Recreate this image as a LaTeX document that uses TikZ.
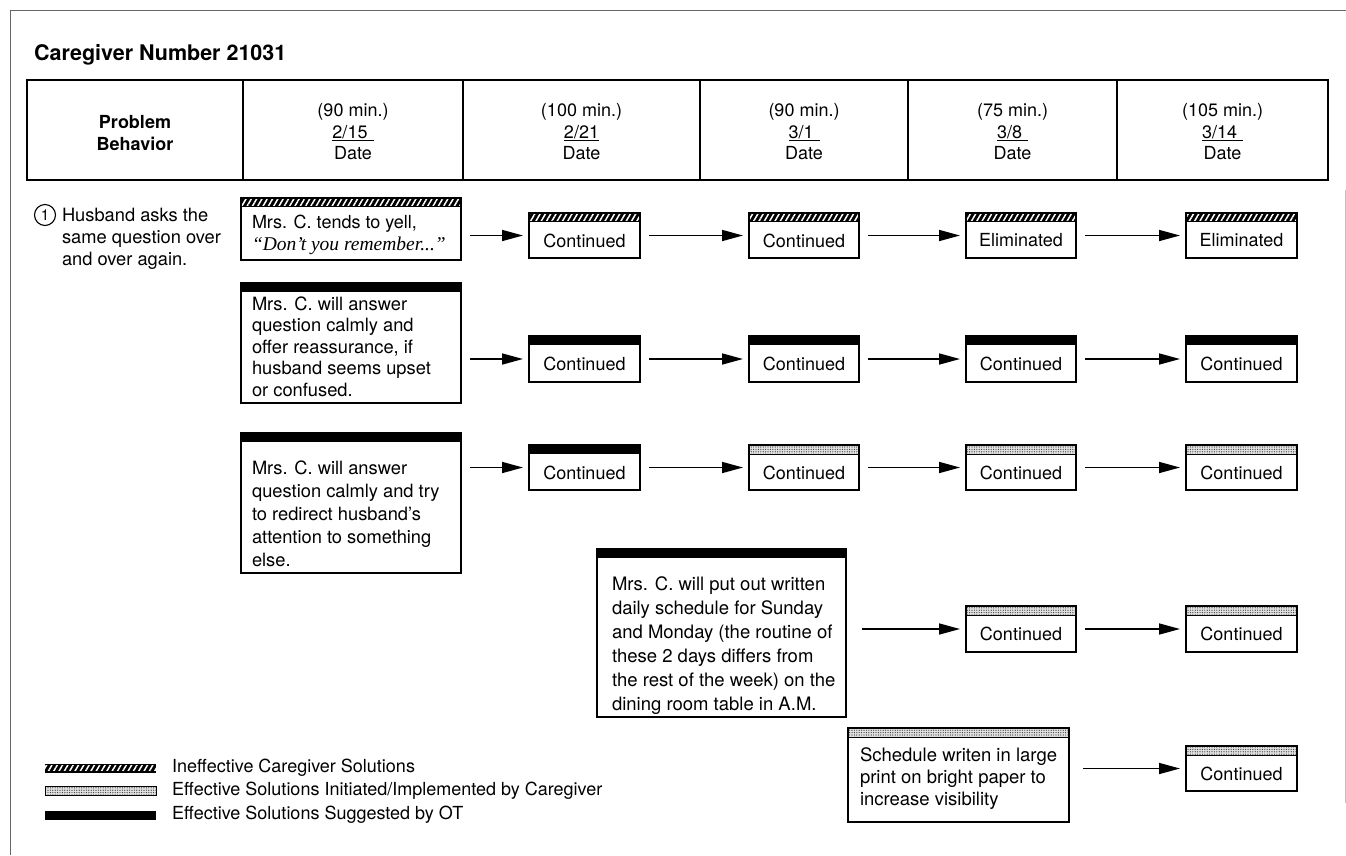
\documentclass[tikz,border=0pt]{standalone}
\usepackage{fontspec}
\setmainfont{TeX Gyre Heros}
\newfontfamily\quotefont{Liberation Serif}
\usetikzlibrary{patterns.meta,arrows.meta}
\newcommand\fs[2]{\fontsize{#1}{#2}\selectfont}
\newcommand\barsolid[1]{%
  \fill[black] (#1.north west) rectangle ([yshift=-9pt]#1.north east);}
\newcommand\barhatch[1]{%
  \fill[black] (#1.north west) rectangle ([yshift=-9pt]#1.north east);
  \fill[pattern={Lines[angle=60,distance=4.6pt,line width=1.5pt]},pattern color=white]
    ([yshift=-1.8pt]#1.north west) rectangle ([yshift=-7.4pt]#1.north east);}
\newcommand\bardots[1]{%
  \fill[black!12] (#1.north west) rectangle ([yshift=-9pt]#1.north east);
  \fill[pattern={Dots[distance=2.4pt,radius=0.6pt]},pattern color=black!80]
    (#1.north west) rectangle ([yshift=-9pt]#1.north east);
  \draw[line width=0.9pt] (#1.north west) rectangle ([yshift=-9pt]#1.north east);}
\newcommand\mkbox[6]{%
  \node[boxsty,anchor=north west,minimum width={(#4)-(#2)},minimum height={(#5)-(#3)}] (#1) at (#2,#3) {};
  \csname bar#6\endcsname{#1}%
  \draw[line width=1.1pt] (#1.north west) rectangle (#1.south east);}
\begin{document}
\begin{tikzpicture}[x=1pt,y=-1pt,
  boxsty/.style={draw,line width=1.1pt,inner sep=0pt,outer sep=0pt,rectangle},
  cell/.style={draw,line width=1.5pt,inner sep=0pt,outer sep=0pt,rectangle,anchor=north west,
     minimum height=100},
  celltext/.style={inner sep=0pt,align=center,font=\fs{18}{21.5}},
  arr/.style={line width=1.6pt,-{Triangle[length=21pt,width=11pt]},shorten <=9pt,shorten >=6pt},
  txt/.style={inner sep=0pt,outer sep=0pt,align=left,anchor=north west},
  ctext/.style={inner sep=0pt,font=\fs{18}{20}},
  legtext/.style={inner sep=0pt,anchor=west,font=\fs{18}{20}},
  legbar/.style={inner sep=0pt,outer sep=0pt,minimum width=111,minimum height=9,anchor=west}]
\useasboundingbox (0,0) rectangle (1346,855);
\fill[white] (0,0) rectangle (1346,855);
% frame
\draw[black!60,line width=1pt] (10,855) -- (10,10) -- (1346,10);
\draw[black!25,line width=1pt] (1345,190) -- (1345,803);
% title
\node[anchor=west,inner sep=0pt,font=\bfseries\fs{21.5}{24}] (title) at (34,55) {Caregiver Number 21031};
% header
\node[cell,minimum width=216] (h0) at (27,80) {};
\node[cell,minimum width=220] (h1) at (243,80) {};
\node[cell,minimum width=237] (h2) at (463,80) {};
\node[cell,minimum width=208] (h3) at (700,80) {};
\node[cell,minimum width=209] (h4) at (908,80) {};
\node[cell,minimum width=211] (h5) at (1117,80) {};
\node[celltext] (h0t) at ([yshift=-3pt]h0.center) {\bfseries Problem\\\bfseries Behavior};
\node[celltext] (h1t) at ([yshift=-2pt]h1.center) {(90 min.)\\\underline{2/15\,\,}\\Date};
\node[celltext] (h2t) at ([yshift=-2pt]h2.center) {(100 min.)\\\underline{2/21}\\Date};
\node[celltext] (h3t) at ([yshift=-2pt]h3.center) {(90 min.)\\\underline{3/1\,\,}\\Date};
\node[celltext] (h4t) at ([yshift=-2pt]h4.center) {(75 min.)\\\underline{3/8\,\,}\\Date};
\node[celltext] (h5t) at ([yshift=-2pt]h5.center) {(105 min.)\\\underline{3/14\,\,}\\Date};
% problem behaviour
\node[circle,draw,line width=1.1pt,minimum size=21pt,inner sep=0pt,font=\fs{15}{15}] (c1) at (45,215) {1};
\node[txt,font=\fs{18.3}{22}] (pb) at (62,208.4) {Husband asks the\\same question over\\and over again.};
% solution boxes
\mkbox{a1}{241}{198}{461}{260}{hatch}
\node[txt,font=\fs{18}{22}] (a1t) at (252,215.5) {Mrs. C. tends to yell,\\{\quotefont\itshape\fs{19.5}{22}“Don’t you remember...”}};
\mkbox{a2}{241}{283}{461}{403}{solid}
\node[txt,font=\fs{18.3}{21.5}] (a2t) at (252,296.5) {Mrs. C. will answer\\question calmly and\\offer reassurance, if\\husband seems upset\\or confused.};
\mkbox{a3}{241}{433}{461}{573}{solid}
\node[txt,font=\fs{18.3}{23}] (a3t) at (252,460.4) {Mrs. C. will answer\\question calmly and try\\to redirect husband's\\attention to something\\else.};
\mkbox{a4}{597}{549}{846}{717}{solid}
\node[txt,font=\fs{18.5}{24}] (a4t) at (612,576.3) {Mrs. C. will put out written\\daily schedule for Sunday\\and Monday (the routine of\\these 2 days differs from\\the rest of the week) on the\\dining room table in A.M.};
\mkbox{a5}{848}{728}{1069}{822}{dots}
\node[txt,font=\fs{18.5}{22}] (a5t) at (860,747.3) {Schedule writen in large\\print on bright paper to\\increase visibility};
% row 1
\mkbox{b1}{529}{213}{640}{258}{hatch}
\mkbox{c1b}{749}{213}{859}{258}{hatch}
\mkbox{d1}{966}{213}{1076}{258}{hatch}
\mkbox{e1}{1186}{213}{1297}{258}{hatch}
\node[ctext] at ([yshift=-5pt]b1.center) {Continued};
\node[ctext] at ([yshift=-5pt]c1b.center) {Continued};
\node[ctext] at ([yshift=-5pt]d1.center) {Eliminated};
\node[ctext] at ([yshift=-5pt]e1.center) {Eliminated};
\draw[arr] (a1.east |- b1.west) -- (b1.west);
\draw[arr] (b1.east) -- (c1b.west);
\draw[arr] (c1b.east) -- (d1.west);
\draw[arr] (d1.east) -- (e1.west);
% row 2
\mkbox{b2}{529}{336}{640}{382}{solid}
\mkbox{c2}{749}{336}{859}{382}{solid}
\mkbox{d2}{966}{336}{1076}{382}{solid}
\mkbox{e2}{1186}{336}{1297}{382}{solid}
\foreach \n in {b2,c2,d2,e2} {\node[ctext] at ([yshift=-5pt]\n.center) {Continued};}
\draw[arr] (a2.east |- b2.west) -- (b2.west);
\draw[arr] (b2.east) -- (c2.west);
\draw[arr] (c2.east) -- (d2.west);
\draw[arr] (d2.east) -- (e2.west);
% row 3
\mkbox{b3}{529}{445}{640}{490}{solid}
\mkbox{c3}{749}{445}{859}{490}{dots}
\mkbox{d3}{966}{445}{1076}{490}{dots}
\mkbox{e3}{1186}{445}{1297}{490}{dots}
\foreach \n in {b3,c3,d3,e3} {\node[ctext] at ([yshift=-5pt]\n.center) {Continued};}
\draw[arr] (a3.east |- b3.west) -- (b3.west);
\draw[arr] (b3.east) -- (c3.west);
\draw[arr] (c3.east) -- (d3.west);
\draw[arr] (d3.east) -- (e3.west);
% row 4
\mkbox{d4}{966}{606}{1076}{652}{dots}
\mkbox{e4}{1186}{606}{1297}{652}{dots}
\foreach \n in {d4,e4} {\node[ctext] at ([yshift=-5pt]\n.center) {Continued};}
\draw[arr,shorten <=16pt] (a4.east |- d4.west) -- (d4.west);
\draw[arr] (d4.east) -- (e4.west);
% row 5
\mkbox{e5}{1186}{746}{1297}{791}{dots}
\node[ctext] at ([yshift=-5pt]e5.center) {Continued};
\draw[arr,shorten <=14pt] (a5.east |- e5.west) -- (e5.west);
% legend
\node[legbar] (l1) at (45,768) {};
\barhatch{l1}
\node[legtext] (l1t) at (172,768) {Ineffective Caregiver Solutions};
\node[legbar] (l2) at (45,791) {};
\bardots{l2}
\node[legtext] (l2t) at (172,791) {Effective Solutions Initiated/Implemented by Caregiver};
\node[legbar] (l3) at (45,815) {};
\barsolid{l3}
\node[legtext] (l3t) at (172,815) {Effective Solutions Suggested by OT};
\end{tikzpicture}
\end{document}
